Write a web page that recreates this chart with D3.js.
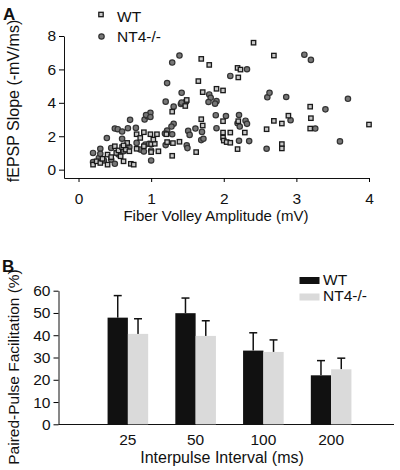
<!DOCTYPE html>
<html><head><meta charset="utf-8">
<script src="https://cdn.jsdelivr.net/npm/d3@7/dist/d3.min.js"></script>
<style>body{margin:0;background:#fff}svg{display:block}text{font-family:"Liberation Sans",Arial,sans-serif;fill:#111}</style>
</head><body><svg id="c" width="400" height="470"></svg>
<script>
// Panel A data: [fiber volley amplitude (mV), fEPSP slope (-mV/ms)]
const wtPoints = [
[0.20,0.30],[0.25,0.50],[0.30,0.40],[0.33,0.65],[0.40,0.30],[0.40,0.90],[0.45,0.75],[0.50,1.40],[0.52,1.00],[0.55,1.15],
[0.58,0.80],[0.60,1.35],[0.62,0.50],[0.65,1.20],[0.70,1.10],[0.72,0.35],[0.76,0.30],[0.80,1.25],[0.67,1.60],[0.62,1.45],
[0.80,2.12],[0.90,2.24],[0.99,2.12],[1.08,2.12],[1.21,2.12],[0.90,1.40],[1.00,1.05],[1.00,1.53],[1.05,1.55],[1.10,1.10],
[0.85,1.90],[1.03,1.80],[1.29,0.83],[1.22,1.65],[1.30,1.59],[1.39,1.67],[1.62,1.05],[1.29,3.47],[1.47,3.81],[1.49,4.17],
[1.65,5.30],[1.69,6.63],[1.80,6.27],[1.71,4.64],[1.90,4.84],[1.99,4.74],[2.19,6.09],[2.23,5.99],[2.20,5.52],[2.41,7.60],
[1.69,3.02],[1.71,2.64],[1.99,2.90],[2.20,2.90],[1.99,2.22],[2.09,2.22],[2.29,2.22],[1.99,1.92],[2.00,1.74],[2.04,1.65],
[2.09,1.61],[2.19,1.23],[2.59,2.42],[2.69,2.92],[2.80,2.76],[2.89,3.23],[2.80,1.53],[2.80,1.27],[3.19,3.77],[3.20,3.08],
[3.19,2.46],[4.00,2.70],[2.69,6.83]];
const nt4Points = [
[0.20,1.00],[0.20,0.45],[0.28,0.70],[0.30,1.25],[0.35,0.55],[0.39,1.89],[0.45,0.60],[0.50,2.46],[0.54,2.42],[0.60,2.28],
[0.68,2.48],[0.79,2.50],[0.50,0.35],[0.55,0.90],[0.62,1.10],[0.71,2.98],[0.70,1.35],[0.85,1.20],[0.92,1.50],[0.97,1.55],
[1.00,0.55],[0.91,3.00],[0.95,3.20],[0.99,3.40],[0.93,3.27],[0.99,3.15],[0.60,1.85],[0.80,1.60],[0.45,1.30],[0.30,0.95],
[1.00,1.15],[0.90,1.09],[1.20,4.07],[1.31,3.77],[1.41,3.93],[1.48,4.07],[1.42,4.01],[1.22,5.18],[1.29,6.41],[1.39,6.83],
[1.42,4.60],[1.80,4.50],[1.82,4.30],[1.90,4.10],[1.88,3.95],[1.79,4.05],[2.09,5.61],[2.32,6.01],[1.89,3.26],[2.03,3.21],
[2.21,3.27],[2.19,2.78],[2.22,2.58],[2.30,2.93],[2.32,2.74],[1.31,2.74],[1.28,2.58],[1.22,2.34],[1.19,2.16],[1.61,2.46],
[1.70,2.26],[1.51,2.32],[1.53,2.08],[1.90,2.48],[1.29,2.12],[1.69,1.77],[1.72,1.85],[2.21,1.73],[2.35,1.71],[1.20,1.47],
[1.49,1.45],[1.50,1.29],[2.59,1.25],[2.92,2.96],[3.26,2.46],[3.40,3.61],[3.60,1.69],[3.71,4.24],[2.86,4.35],[2.60,4.33],
[2.63,4.60],[3.11,6.88],[3.20,6.57]];
const xTicksA = [0,1,2,3,4];
const yTicksA = [0,2,4,6,8];

// Panel B data
const intervals = ["25","50","100","200"];
const wtMean = [47.9,49.9,33.1,22.0];
const wtErr  = [9.9,6.8,8.0,6.6];
const nt4Mean = [40.6,39.7,32.5,24.7];
const nt4Err  = [6.8,6.8,5.4,5.0];
const yTicksB = [0,10,20,30,40,50,60];

const svg = d3.select("#c");
const FF = "Liberation Sans, Arial";

// ---------- Panel A ----------
const xA = d3.scaleLinear().domain([-0.2,4]).range([64,369]);
const yA = d3.scaleLinear().domain([-0.5,8]).range([178,36]);

svg.append("g").attr("transform","translate(64,0)")
  .call(d3.axisLeft(yA).tickValues(yTicksA).tickFormat(d3.format("d")).tickSize(5).tickSizeOuter(0).tickPadding(3))
  .call(g=>g.select(".domain").attr("stroke","#111"))
  .call(g=>g.selectAll("text").attr("font-size",15.5).style("font-family",FF));
svg.append("g").attr("transform","translate(0,178)")
  .call(d3.axisBottom(xA).tickValues(xTicksA).tickFormat(d3.format("d")).tickSize(4).tickSizeOuter(0).tickPadding(11))
  .call(g=>g.select(".domain").attr("stroke","#111"))
  .call(g=>g.selectAll("text").attr("font-size",15.5).style("font-family",FF));

svg.append("g").selectAll("circle").data(nt4Points).join("circle")
  .attr("cx",d=>xA(d[0])).attr("cy",d=>yA(d[1])).attr("r",2.7)
  .attr("fill","#777").attr("stroke","#333").attr("stroke-width",1.2);
svg.append("g").selectAll("rect").data(wtPoints).join("rect")
  .attr("x",d=>xA(d[0])-2.2).attr("y",d=>yA(d[1])-2.2).attr("width",4.4).attr("height",4.4)
  .attr("fill","#c8c8c8").attr("stroke","#1a1a1a").attr("stroke-width",1.3);

// legend A
svg.append("rect").attr("x",98.8).attr("y",12.3).attr("width",4.4).attr("height",4.4)
  .attr("fill","#c8c8c8").attr("stroke","#1a1a1a").attr("stroke-width",1.3);
svg.append("text").attr("x",117).attr("y",22).attr("font-size",15.5).text("WT");
svg.append("circle").attr("cx",101.5).attr("cy",36.5).attr("r",2.7)
  .attr("fill","#777").attr("stroke","#333").attr("stroke-width",1.2);
svg.append("text").attr("x",117).attr("y",42).attr("font-size",15.5).text("NT4-/-");

svg.append("text").attr("x",3).attr("y",20).attr("font-size",17).attr("font-weight","bold").text("A");
svg.append("text").attr("transform","translate(19,101) rotate(-90)").attr("text-anchor","middle")
  .attr("font-size",16).text("fEPSP Slope (-mV/ms)");
svg.append("text").attr("x",216).attr("y",221).attr("text-anchor","middle")
  .attr("font-size",15).text("Fiber Volley Amplitude (mV)");

// ---------- Panel B ----------
const xB = d3.scaleBand().domain(intervals).range([94,365]).padding(0);
const yB = d3.scaleLinear().domain([0,60]).range([424.3,290.7]);
const barW = 20.3;

svg.append("line").attr("x1",58.5).attr("x2",394).attr("y1",424.5).attr("y2",424.5)
  .attr("stroke","#111").attr("stroke-width",1.2);
svg.append("g").attr("transform","translate(58.5,0)")
  .call(d3.axisLeft(yB).tickValues(yTicksB).tickSize(5).tickSizeOuter(0).tickPadding(3))
  .call(g=>g.select(".domain").attr("stroke","#111"))
  .call(g=>g.selectAll("text").attr("font-size",15.5).style("font-family",FF));
svg.append("g").attr("transform","translate(0,424.5)")
  .call(d3.axisBottom(xB).tickSize(0).tickPadding(9))
  .call(g=>g.select(".domain").remove())
  .call(g=>g.selectAll("text").attr("font-size",15.5).style("font-family",FF));

const cx = c => xB(c)+xB.bandwidth()/2;
const series = [
  {mean:wtMean, err:wtErr, fill:"#111", off:-barW},
  {mean:nt4Mean, err:nt4Err, fill:"#dadada", off:0}
];
series.forEach(s=>{
  const g = svg.append("g");
  g.selectAll("line.e").data(intervals).join("line").attr("class","e")
    .attr("x1",(c)=>cx(c)+s.off+barW/2).attr("x2",(c)=>cx(c)+s.off+barW/2)
    .attr("y1",(c,i)=>yB(s.mean[i])).attr("y2",(c,i)=>yB(s.mean[i]+s.err[i]))
    .attr("stroke","#111").attr("stroke-width",1.5);
  g.selectAll("line.cap").data(intervals).join("line").attr("class","cap")
    .attr("x1",(c)=>cx(c)+s.off+barW/2-4).attr("x2",(c)=>cx(c)+s.off+barW/2+4)
    .attr("y1",(c,i)=>yB(s.mean[i]+s.err[i])).attr("y2",(c,i)=>yB(s.mean[i]+s.err[i]))
    .attr("stroke","#111").attr("stroke-width",1.5);
  g.selectAll("rect").data(intervals).join("rect")
    .attr("x",c=>cx(c)+s.off).attr("width",barW)
    .attr("y",(c,i)=>yB(s.mean[i])).attr("height",(c,i)=>yB(0)-yB(s.mean[i]))
    .attr("fill",s.fill);
});

// legend B
svg.append("rect").attr("x",299.5).attr("y",277).attr("width",20).attr("height",7).attr("fill","#111");
svg.append("text").attr("x",323).attr("y",284.5).attr("font-size",15.5).text("WT");
svg.append("rect").attr("x",299.5).attr("y",293.5).attr("width",20).attr("height",7).attr("fill","#dadada");
svg.append("text").attr("x",323).attr("y",301).attr("font-size",15.5).text("NT4-/-");

svg.append("text").attr("x",2).attr("y",272).attr("font-size",17).attr("font-weight","bold").text("B");
svg.append("text").attr("transform","translate(19,367) rotate(-90)").attr("text-anchor","middle")
  .attr("font-size",15.5).text("Paired-Pulse Facilitation (%)");
svg.append("text").attr("x",222).attr("y",463).attr("text-anchor","middle")
  .attr("font-size",16).text("Interpulse Interval (ms)");
</script></body></html>
